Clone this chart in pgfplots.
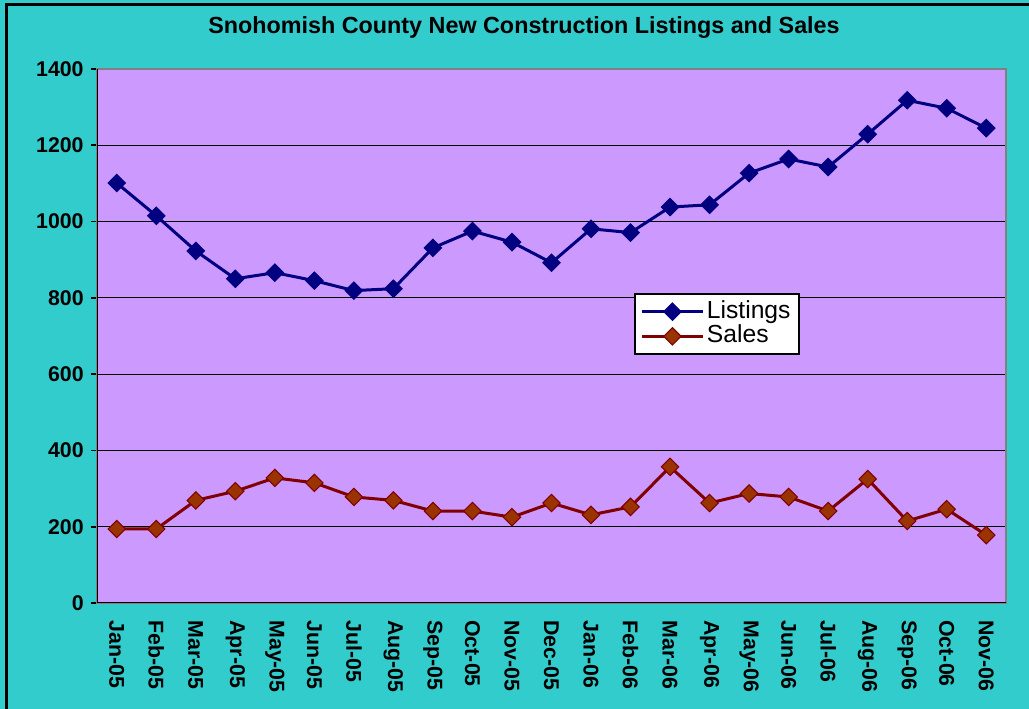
\documentclass[border=0pt]{standalone}
\usepackage{pgfplots}
\pgfplotsset{compat=1.18}
\usepackage{fontspec}
\setmainfont{Liberation Sans}
\definecolor{bgteal}{HTML}{33CCCC}
\definecolor{plotbg}{HTML}{CC99FF}
\definecolor{navyc}{HTML}{000080}
\definecolor{darkredc}{HTML}{800000}
\definecolor{brownc}{HTML}{993300}
\pgfplotsset{every axis plot/.append style={legend image code/.code={\draw[mark repeat=2,mark phase=2,#1] plot coordinates {(0cm,0cm)(0.8cm,0cm)(1.6cm,0cm)};}}}
\begin{document}
\begin{tikzpicture}
\useasboundingbox (0pt,0pt) rectangle (771.75pt,531.75pt);
\fill[bgteal] (0pt,0pt) rectangle (771.75pt,531.75pt);
\draw[black,line width=2.25pt] (4.5pt,0pt) -- (4.5pt,528pt) -- (771.75pt,528pt);
\node[font=\bfseries\fontsize{17.5}{20}\selectfont] at (393pt,511pt) {Snohomish County New Construction Listings and Sales};
\begin{axis}[
  at={(72.75pt,79.5pt)}, anchor=south west,
  scale only axis, width=681.75pt, height=400.5pt,
  xmin=-0.5, xmax=22.5, ymin=0, ymax=1400,
  axis background/.style={fill=plotbg},
  axis line style={draw=gray, line width=1.2pt},
  ytick={0,200,...,1400},
  ytick pos=left, xtick pos=bottom,
  ymajorgrids, grid style={black, line width=0.9pt},
  xtick={0,...,22},
  xticklabels={Jan-05,Feb-05,Mar-05,Apr-05,May-05,Jun-05,Jul-05,Aug-05,Sep-05,Oct-05,Nov-05,Dec-05,Jan-06,Feb-06,Mar-06,Apr-06,May-06,Jun-06,Jul-06,Aug-06,Sep-06,Oct-06,Nov-06},
  minor xtick={-0.5,0.5,...,22.5},
  tick align=outside,
  xtick style={draw=none},
  minor x tick style={black, line width=1.2pt},
  minor tick length=4.5pt,
  ytick style={black, line width=1.2pt},
  major tick length=4.5pt,
  x tick label style={rotate=-90, anchor=west, font=\bfseries\fontsize{16}{18}\selectfont},
  y tick label style={font=\bfseries\fontsize{16}{18}\selectfont},
  /pgf/number format/assume math mode=true,
  /pgf/number format/1000 sep={},
  xticklabel shift=5pt,
  yticklabel shift=2pt,
  legend style={at={(0.591,0.5805)}, anchor=north west, fill=white, draw=black, line width=1.5pt, font=\fontsize{18.5}{18}\selectfont, inner xsep=4pt, inner ysep=4pt, row sep=0pt, legend cell align=left, nodes={inner xsep=2pt, inner ysep=0pt, text height=14pt, text depth=4.5pt}},
]
\addplot[navyc, line width=2.25pt, mark=square*, mark size=4.6pt, mark options={rotate=45, fill=navyc, draw=navyc, line width=0.8pt}] coordinates {
(0,1101) (1,1015) (2,923) (3,850) (4,866) (5,845) (6,819) (7,824) (8,931) (9,975) (10,946) (11,892) (12,981) (13,971) (14,1038) (15,1044) (16,1127) (17,1164) (18,1143) (19,1229) (20,1318) (21,1297) (22,1245)};
\addlegendentry{Listings}
\addplot[darkredc, line width=2.25pt, mark=square*, mark size=4.6pt, mark options={rotate=45, fill=brownc, draw=darkredc, line width=0.8pt}] coordinates {
(0,194) (1,194) (2,269) (3,293) (4,328) (5,315) (6,278) (7,269) (8,241) (9,241) (10,225) (11,262) (12,231) (13,252) (14,357) (15,262) (16,287) (17,278) (18,241) (19,325) (20,215) (21,246) (22,178)};
\addlegendentry{Sales}
\draw[black, line width=1.2pt] (rel axis cs:0,1) -- (rel axis cs:0,0) -- (rel axis cs:1,0);
\end{axis}
\end{tikzpicture}
\end{document}
